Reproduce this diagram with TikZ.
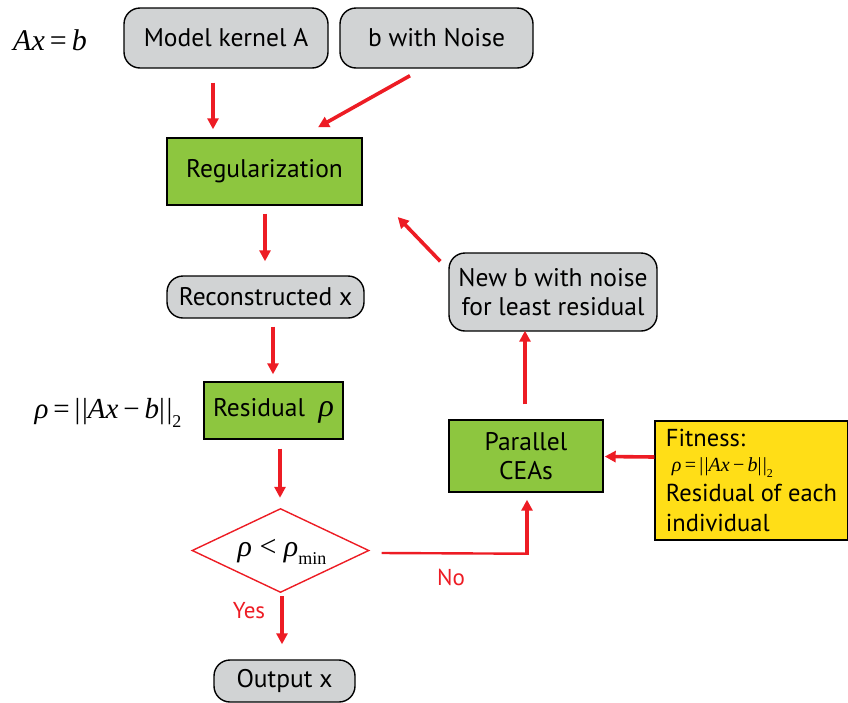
\documentclass[tikz,border=0pt]{standalone}
\usepackage{fontspec}
\setmainfont{PT Sans}
\newfontfamily\tnr{Liberation Serif}
\usetikzlibrary{shapes.geometric,arrows.meta,calc}
\definecolor{flowred}{HTML}{ED1C24}
\definecolor{boxgreen}{HTML}{8DC63F}
\definecolor{boxgray}{HTML}{D1D3D4}
\definecolor{boxyellow}{HTML}{FFDE17}
% residual norm rho = ||Ax - b||_2 in a Times-like face
\newcommand\normfml[2]{{\tnr\fontsize{#1}{#1}\selectfont\itshape ρ\upshape\,=\,|\kern0.06em|\itshape Ax\upshape\,−\,\itshape b\upshape|\kern0.06em|\raisebox{-0.3em}{\fontsize{#2}{#2}\selectfont 2}}}
\tikzset{
  txt/.style={font=\fontsize{25.5}{29}\selectfont, inner sep=0pt},
  graybox/.style={txt, draw=black, line width=1.4pt, fill=boxgray, rounded corners=16pt, align=center},
  greenbox/.style={txt, draw=black, line width=1.4pt, fill=boxgreen, align=center},
  flowarrow/.style={draw=flowred, line width=3.6pt, -{Triangle[length=11pt,width=11pt]}},
  flowline/.style={draw=flowred, line width=2.4pt},
  redlabel/.style={txt, text=flowred, font=\fontsize{23}{27}\selectfont}
}
\begin{document}
\begin{tikzpicture}[x=1pt,y=-1pt]
\useasboundingbox (0,0) rectangle (848,702);

% equation labels on the left
\node[inner sep=0pt] (axb) at (50,40) {\tnr\fontsize{30}{30}\selectfont\itshape Ax\upshape\,=\,\itshape b};
\node[inner sep=0pt] (rhodef) at (108,413) {\normfml{29}{18}};

% blocks
\node[graybox, minimum width=204pt, minimum height=60pt] (kernel) at (226,38) {Model kernel A};
\node[graybox, minimum width=193pt, minimum height=60pt] (bnoise) at (436.5,38) {b with Noise};
\node[greenbox, minimum width=195pt, minimum height=67pt] (reg) at (264.5,171.5) {Regularization};
\node[graybox, minimum width=197pt, minimum height=42pt] (recon) at (265.5,297) {Reconstructed x};
\node[greenbox, minimum width=139pt, minimum height=57pt] (resid) at (273.5,410.5)
  {Residual\ \ {\tnr\fontsize{32}{32}\selectfont\itshape ρ}};
\node[diamond, draw=flowred, line width=1.4pt, fill=white, aspect=2.107,
      minimum width=177pt, minimum height=84pt, inner sep=0pt] (dec) at (280.5,550.5) {};
\node[inner sep=0pt] (dectext) at (282,552)
  {\tnr\fontsize{30}{30}\selectfont\itshape ρ\upshape\ <\ \itshape ρ\raisebox{-0.25em}{\upshape\fontsize{18}{18}\selectfont min}};
\node[graybox, minimum width=141pt, minimum height=42pt] (output) at (284.5,681) {Output x};
\node[greenbox, minimum width=154pt, minimum height=72pt] (cea) at (526,456) {Parallel\\CEAs};
\node[graybox, minimum width=208pt, minimum height=78pt] (newb) at (553,292)
  {New b with noise\\for least residual};
\node[txt, draw=black, line width=1.4pt, fill=boxyellow, minimum width=193pt, minimum height=119pt,
      align=left, font=\fontsize{24.5}{30}\selectfont] (fit) at (751.5,480.5)
  {Fitness:\\[-5pt]\hspace*{6pt}\normfml{20}{12}\\Residual of each\\individual};

% connectors
\draw[flowarrow] ($(kernel.south)+(-13,14)$) -- ($(reg.north)+(-51.5,-8)$);
\draw[flowarrow] ($(bnoise.south)+(-26.5,7)$) -- ($(reg.north)+(53.5,-10)$);
\draw[flowarrow] ($(reg.south)+(0.5,8)$) -- ($(recon.north)+(-0.5,-14)$);
\draw[flowarrow] ($(recon.south)+(7.5,8)$) -- ($(resid.north)+(-0.5,-7)$);
\draw[flowarrow] ($(resid.south)+(6.5,9)$) -- ($(dec.north)+(-0.5,-10)$);
\draw[flowarrow] ($(dec.south)+(1.5,3)$) -- ($(output.north)+(-2.5,-15)$);
\coordinate (nostart) at ($(dec.east)+(12,2.5)$);
\draw[flowline] (nostart) -- ($(cea.south)+(1,61)$);
\draw[flowarrow] ($(cea.south)+(1,62.2)$) -- ($(cea.south)+(1,7)$);
\draw[flowarrow] ($(fit.west)+(0,-23.5)$) -- ($(cea.east)+(1,0.5)$);
\draw[flowarrow] ($(cea.north)+(-1,-15)$) -- ($(newb.south)+(-28,-1)$);
\draw[flowarrow] ($(newb.north west)+(-8,9)$) -- ($(reg.east)+(35,45.5)$);

% branch labels
\node[redlabel] (yes) at (249,611) {Yes};
\node[redlabel] (no) at (451,577) {No};
\end{tikzpicture}
\end{document}
